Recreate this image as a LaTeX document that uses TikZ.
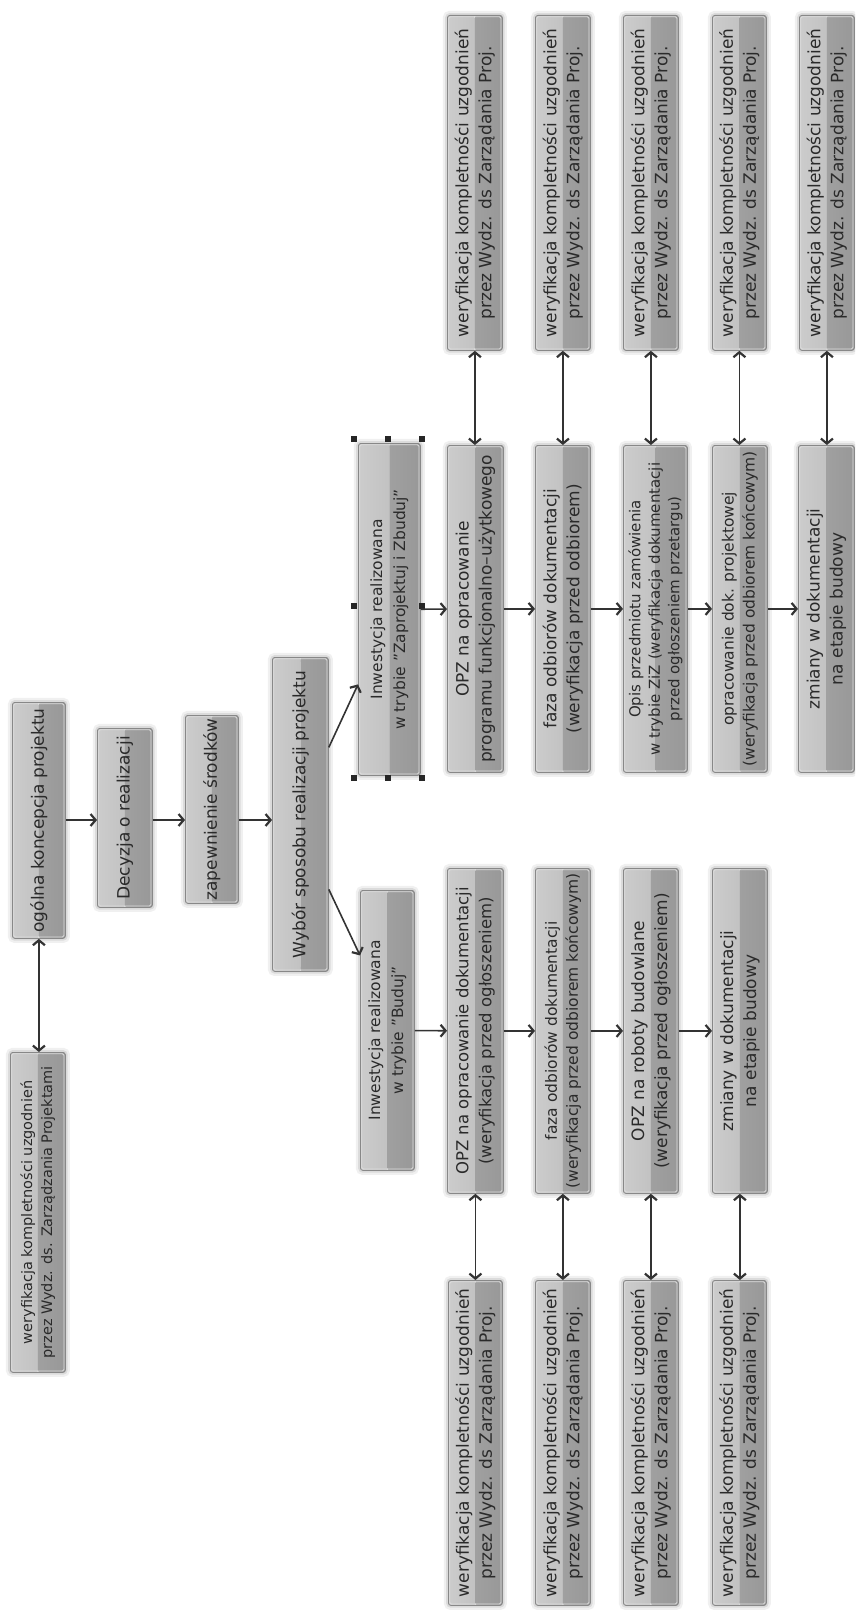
\documentclass[tikz,border=0pt]{standalone}
\usepackage{fontspec}
\setmainfont{DejaVu Sans}
\usetikzlibrary{arrows.meta}
\definecolor{lc}{HTML}{333333}
\definecolor{tc}{HTML}{2A2A2A}
\definecolor{bla}{HTML}{CCCCCC}
\definecolor{blb}{HTML}{B8B8B8}
\definecolor{bra}{HTML}{A0A0A0}
\definecolor{brb}{HTML}{989898}
\definecolor{bd}{HTML}{888888}
\definecolor{rim}{HTML}{DDDDDD}
\newcommand\fsz[2]{\fontsize{#1}{#2}\selectfont}
\tikzset{
 box/.style={rectangle, rounded corners=2.5pt, draw=bd, line width=0.8pt, inner sep=0pt, anchor=north west,
   preaction={draw=black!6, line width=9pt},
   preaction={draw=black!14, line width=4.5pt},
   path picture={
     \shade[left color=bla, right color=blb] (path picture bounding box.south west) rectangle (path picture bounding box.north);
     \shade[left color=bra, right color=brb] (path picture bounding box.south) rectangle (path picture bounding box.north east);
     \draw[rim, line width=0.8pt, rounded corners=1.5pt] ([shift={(1.4pt,1.4pt)}]path picture bounding box.south west) rectangle ([shift={(-1.4pt,-1.4pt)}]path picture bounding box.north east);
   }},
 lbl/.style={rotate=90, align=center, text=tc, inner sep=0pt},
 tip/.style={},
 arr/.style={draw=lc, line width=1.6pt, -{Straight Barb[length=5pt,width=12pt,line width=2.2pt]}},
 dbl/.style={draw=lc, line width=1.6pt, {Straight Barb[length=5pt,width=12pt,line width=2.2pt]}-{Straight Barb[length=5pt,width=12pt,line width=2.2pt]}},
 handle/.style={rectangle, fill=black!85, minimum size=6.5pt, inner sep=0pt},
}
% name, left, top, width, height, font, text
\newcommand\mkbox[7]{\node[box, minimum width=#4, minimum height=#5, label={[lbl,font=\fsz#6]center:{#7}}] (#1) at (#2,#3) {};}
\begin{document}
\begin{tikzpicture}[x=1pt,y=-1pt]
\fill[white] (0,0) rectangle (855,1611);
\useasboundingbox (0,0) rectangle (855,1611);
\clip (0,0) rectangle (855,1611);

% main chain
\mkbox{vA}{10}{1052}{55}{320}{{14.5}{20}}{weryfikacja kompletności uzgodnień\\przez Wydz. ds. Zarządzania Projektami}
\mkbox{B}{12}{702}{53}{236}{{17}{23}}{ogólna koncepcja projektu}
\mkbox{Dec}{97}{728}{55}{179}{{17}{23}}{Decyzja o realizacji}
\mkbox{zap}{185}{715}{53}{188}{{17}{23}}{zapewnienie środków}
\mkbox{Wyb}{272}{657}{56}{314}{{17}{23}}{Wybór sposobu realizacji projektu}
\mkbox{Zb}{358}{443}{62}{332}{{15.5}{23}}{Inwestycja realizowana\\w trybie "Zaprojektuj i Zbuduj"}
\mkbox{Bu}{360}{890}{54}{280}{{15.5}{23}}{Inwestycja realizowana\\w trybie "Buduj"}

% upper row
\mkbox{u1}{447}{445}{56}{327}{{17}{23}}{OPZ na opracowanie\\programu funkcjonalno–użytkowego}
\mkbox{u2}{535}{445}{55}{327}{{17}{23}}{faza odbiorów dokumentacji\\(weryfikacja przed odbiorem)}
\mkbox{u3}{623}{445}{64}{327}{{15}{19.5}}{Opis przedmiotu zamówienia\\w trybie ZiZ (weryfikacja dokumentacji\\przed ogłoszeniem przetargu)}
\mkbox{u4}{712}{445}{55}{327}{{15.5}{21}}{opracowanie dok. projektowej\\(weryfikacja przed odbiorem końcowym)}
\mkbox{u5}{798}{445}{56}{327}{{17}{23}}{zmiany w dokumentacji\\na etapie budowy}

% lower row
\mkbox{l1}{447}{868}{56}{325}{{16.5}{23}}{OPZ na opracowanie dokumentacji\\(weryfikacja przed ogłoszeniem)}
\mkbox{l2}{535}{868}{55}{325}{{15.5}{21}}{faza odbiorów dokumentacji\\(weryfikacja przed odbiorem końcowym)}
\mkbox{l3}{623}{868}{55}{325}{{17}{23}}{OPZ na roboty budowlane\\(weryfikacja przed ogłoszeniem)}
\mkbox{l4}{712}{868}{55}{325}{{17}{23}}{zmiany w dokumentacji\\na etapie budowy}

% verification boxes, upper
\mkbox{v1}{447}{15}{55}{335}{{17}{23}}{weryfikacja kompletności uzgodnień\\przez Wydz. ds Zarządania Proj.}
\mkbox{v2}{535}{15}{55}{335}{{17}{23}}{weryfikacja kompletności uzgodnień\\przez Wydz. ds Zarządania Proj.}
\mkbox{v3}{623}{15}{55}{335}{{17}{23}}{weryfikacja kompletności uzgodnień\\przez Wydz. ds Zarządania Proj.}
\mkbox{v4}{712}{15}{54}{335}{{17}{23}}{weryfikacja kompletności uzgodnień\\przez Wydz. ds Zarządania Proj.}
\mkbox{v5}{799}{15}{55}{335}{{17}{23}}{weryfikacja kompletności uzgodnień\\przez Wydz. ds Zarządania Proj.}

% verification boxes, lower
\mkbox{w1}{448}{1280}{54}{325}{{17}{23}}{weryfikacja kompletności uzgodnień\\przez Wydz. ds Zarządania Proj.}
\mkbox{w2}{535}{1280}{55}{325}{{17}{23}}{weryfikacja kompletności uzgodnień\\przez Wydz. ds Zarządania Proj.}
\mkbox{w3}{623}{1280}{55}{325}{{17}{23}}{weryfikacja kompletności uzgodnień\\przez Wydz. ds Zarządania Proj.}
\mkbox{w4}{712}{1280}{54}{325}{{17}{23}}{weryfikacja kompletności uzgodnień\\przez Wydz. ds Zarządania Proj.}

% selection handles around Zb
\node[handle] (h1) at (354,439) {};
\node[handle] (h2) at (388,439) {};
\node[handle] (h3) at (422,439) {};
\node[handle] (h4) at (354,606) {};
\node[handle] (h5) at (422,606) {};
\node[handle] (h6) at (354,778) {};
\node[handle] (h7) at (388,778) {};
\node[handle] (h8) at (422,778) {};

% connectors
\coordinate (yc) at (0,820);
\draw[dbl] (B.south) -- (B.south |- vA.north);
\draw[arr] (B.east |- yc) -- (Dec.west |- yc);
\draw[arr] (Dec.east |- yc) -- (zap.west |- yc);
\draw[arr] (zap.east |- yc) -- (Wyb.west |- yc);
\draw[arr] ([yshift=67pt]Wyb.east) -- ([yshift=-75pt]Zb.west);
\draw[arr] ([yshift=-75pt]Wyb.east) -- ([yshift=75pt]Bu.west);

\draw[arr] (Zb) -- (u1);
\draw[arr] (u1) -- (u2);
\draw[arr] (u2) -- (u3);
\draw[arr] (u3) -- (u4);
\draw[arr] (u4) -- (u5);

\draw[arr] (Bu) -- (l1);
\draw[arr] (l1) -- (l2);
\draw[arr] (l2) -- (l3);
\draw[arr] (l3) -- (l4);

\draw[dbl] (v1.south) -- (v1.south |- u1.north);
\draw[dbl] (v2.south) -- (v2.south |- u2.north);
\draw[dbl] (v3.south) -- (v3.south |- u3.north);
\draw[dbl] (v4.south) -- (v4.south |- u4.north);
\draw[dbl] (v5.south) -- (v5.south |- u5.north);

\draw[dbl] (l1.south) -- (l1.south |- w1.north);
\draw[dbl] (l2.south) -- (l2.south |- w2.north);
\draw[dbl] (l3.south) -- (l3.south |- w3.north);
\draw[dbl] (l4.south) -- (l4.south |- w4.north);
\end{tikzpicture}
\end{document}
